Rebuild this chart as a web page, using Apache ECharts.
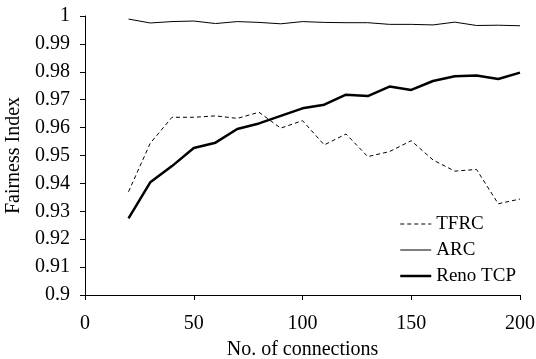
<!DOCTYPE html>
<html><head><meta charset="utf-8">
<script src="https://cdn.jsdelivr.net/npm/echarts@6/dist/echarts.min.js"></script>
<style>html,body{margin:0;padding:0;background:#fff}#c{width:536px;height:359px}</style>
</head><body><div id="c"></div>
<script>
const connections = [20,30,40,50,60,70,80,90,100,110,120,130,140,150,160,170,180,190,200];
const tfrc = [0.937,0.9544,0.9637,0.9637,0.9642,0.9633,0.9655,0.9598,0.9625,0.9538,0.9577,0.9496,0.9514,0.9553,0.9484,0.9444,0.945,0.9327,0.9344];
const arc = [0.9989,0.9975,0.998,0.9982,0.9973,0.998,0.9977,0.9972,0.998,0.9977,0.9976,0.9976,0.997,0.997,0.9968,0.9978,0.9966,0.9967,0.9965];
const reno = [0.9275,0.9404,0.9462,0.9527,0.9546,0.9595,0.9615,0.9642,0.9669,0.9682,0.9718,0.9713,0.9747,0.9735,0.9767,0.9784,0.9787,0.9774,0.9797];
const yTickLabels = {1:'1',0.99:'0.99',0.98:'0.98',0.97:'0.97',0.96:'0.96',0.95:'0.95',0.94:'0.94',0.93:'0.93',0.92:'0.92',0.91:'0.91',0.9:'0.9'};

const font = 'Liberation Serif';
const pair = (ys) => connections.map((x,i)=>[x, ys[i]]);
const chart = echarts.init(document.getElementById('c'), null, {renderer:'canvas'});
chart.setOption({
  animation:false,
  backgroundColor:'#fff',
  grid:{left:85, right:16, top:16, bottom:64, containLabel:false, outerBoundsMode:'none'},
  legend:{
    orient:'vertical', left:394, top:209, itemWidth:31, itemHeight:12, itemGap:6,
    textStyle:{fontFamily:font, fontSize:19, lineHeight:20, color:'#000', padding:[0,0,0,0]},
    itemStyle:{opacity:0},
    data:[
      {name:'TFRC', itemStyle:{opacity:0}, lineStyle:{color:'#000', width:1, type:[4,3]}},
      {name:'ARC', itemStyle:{opacity:0}, lineStyle:{color:'#000', width:1}},
      {name:'Reno TCP', itemStyle:{opacity:0}, lineStyle:{color:'#000', width:2.5}}
    ]
  },
  xAxis:{
    type:'value', min:0, max:200, interval:50,
    name:'No. of connections', nameLocation:'middle', nameGap:45,
    nameTextStyle:{fontFamily:font, fontSize:20, color:'#000'},
    axisLine:{lineStyle:{color:'#000', width:1}},
    axisTick:{show:true, length:5, lineStyle:{color:'#000'}},
    axisLabel:{fontFamily:font, fontSize:20, color:'#000', margin:19},
    splitLine:{show:false}
  },
  yAxis:{
    type:'value', min:0.9, max:1, interval:0.01,
    name:'Fairness Index', nameLocation:'middle', nameGap:58, nameRotate:90,
    nameTextStyle:{fontFamily:font, fontSize:20, color:'#000'},
    axisLine:{show:true, lineStyle:{color:'#000', width:1}},
    axisTick:{show:true, length:5, lineStyle:{color:'#000'}},
    axisLabel:{fontFamily:font, fontSize:20, color:'#000', margin:15,
      formatter:(v)=>{const k=Math.round(v*100)/100; return yTickLabels[k]!==undefined?yTickLabels[k]:String(k);}},
    splitLine:{show:false}
  },
  series:[
    {name:'TFRC', type:'line', data:pair(tfrc), symbol:'none', color:'#000',
     lineStyle:{color:'#000', width:1, type:[4,3]}},
    {name:'ARC', type:'line', data:pair(arc), symbol:'none', color:'#000',
     lineStyle:{color:'#000', width:1}},
    {name:'Reno TCP', type:'line', data:pair(reno), symbol:'none', color:'#000',
     lineStyle:{color:'#000', width:2.5}}
  ]
});
</script></body></html>
